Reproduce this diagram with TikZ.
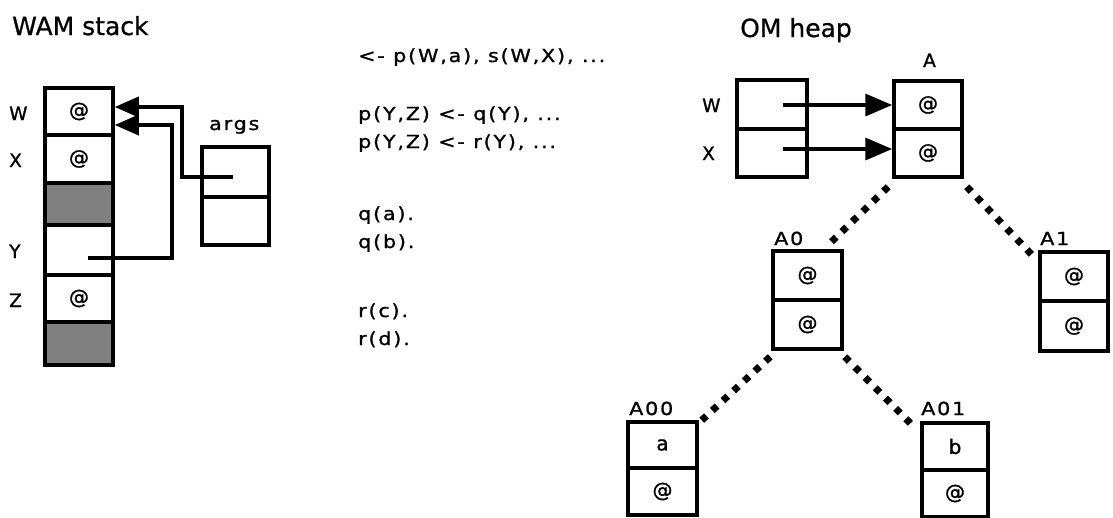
\documentclass[tikz,border=0pt]{standalone}
\usepackage{fontspec}
\setmainfont{DejaVu Sans}
\newfontfamily\genevafont[LetterSpace=10,FakeStretch=1.15,FakeBold=1.2]{DejaVu Sans}
\newfontfamily\letterfont[FakeBold=1.2]{DejaVu Sans}
\newfontfamily\titlefont[FakeBold=0.8]{DejaVu Sans}
\usetikzlibrary{arrows.meta,calc}
\begin{document}
\begin{tikzpicture}[x=1pt,y=-1pt,
  cell/.style={draw,line width=3.5pt,rectangle,inner sep=0pt,minimum width=68pt,font=\letterfont\fontsize{20}{22}\selectfont},
  shaded/.style={cell,fill=black!50},
  vlbl/.style={anchor=base west,inner sep=0pt,font=\letterfont\fontsize{18.5}{22}\selectfont},
  lbl/.style={anchor=base west,inner sep=0pt,font=\genevafont\fontsize{18}{22}\selectfont},
  prog/.style={anchor=base west,inner sep=0pt,font=\genevafont\fontsize{18}{22}\selectfont},
  title/.style={anchor=base west,inner sep=0pt,font=\titlefont\fontsize{25}{28}\selectfont},
  arr/.style={line width=3.5pt,-{Triangle[length=24pt,width=20pt]}},
  arrb/.style={line width=3.5pt,-{Triangle[length=27pt,width=22pt]}},
  dotline/.style={line width=7pt,dash pattern=on 6.5pt off 8pt}]
\useasboundingbox (0,0) rectangle (1113,517);
% titles
\node[title] (t1) at (12,35) {WAM stack};
\node[title] (t2) at (740,37) {OM heap};
% WAM stack
\node[cell,minimum height=47pt] (w) at (79,111.5) {@};
\node[cell,minimum height=48pt] (x) at (79,159) {@};
\node[shaded,minimum height=42pt] (s1) at (79,204) {};
\node[cell,minimum height=50pt] (y) at (79,250) {};
\node[cell,minimum height=47pt] (z) at (79,298.5) {@};
\node[shaded,minimum height=43pt] (s2) at (79,343.5) {};
\node[vlbl] (lw) at (9,120) {W};
\node[vlbl] (lx) at (9,167) {X};
\node[vlbl] (ly) at (9,258) {Y};
\node[vlbl] (lz) at (9,307) {Z};
% args
\node[cell,minimum width=67pt,minimum height=50pt] (g1) at (235.5,172) {};
\node[cell,minimum width=67pt,minimum height=48pt] (g2) at (235.5,221) {};
\node[lbl] (la) at (209,130) {args};
\coordinate (ga) at (233,177);
\coordinate (ya) at (88,258);
\draw[arr] (ga) -- (182,177) |- ([yshift=4.5pt]w.east);
\draw[arr] (ya) -- (172,258) |- ([yshift=-13.5pt]w.east);
% program
\node[prog] (p1) at (358,62) {<- p(W,a), s(W,X), ...};
\node[prog] (p2) at (358,120) {p(Y,Z) <- q(Y), ...};
\node[prog] (p3) at (358,148) {p(Y,Z) <- r(Y), ...};
\node[prog] (p4) at (358,220) {q(a).};
\node[prog] (p5) at (358,248) {q(b).};
\node[prog] (p6) at (358,317) {r(c).};
\node[prog] (p7) at (358,345) {r(d).};
% OM heap
\node[cell,minimum width=70pt,minimum height=49pt] (ow) at (772,104.5) {};
\node[cell,minimum width=70pt,minimum height=48pt] (ox) at (772,153) {};
\node[vlbl] (low) at (702,112) {W};
\node[vlbl] (lox) at (702,160) {X};
\node[cell,minimum height=48pt] (aT) at (928,105) {@};
\node[cell,minimum height=48pt] (aB) at (928,153) {@};
\node[vlbl] (lA) at (923,67) {A};
\coordinate (pw) at (783,105);
\coordinate (px) at (783,149);
\draw[arrb] (pw) -- (aT.west |- pw);
\draw[arrb] (px) -- (aB.west |- px);
\node[cell,minimum width=69pt,minimum height=49pt] (a0T) at (807.5,275.5) {@};
\node[cell,minimum width=69pt,minimum height=49pt] (a0B) at (807.5,324.5) {@};
\node[lbl] (lA0) at (774,245) {A0};
\node[cell,minimum height=49pt] (a1T) at (1074,276.5) {@};
\node[cell,minimum height=50pt] (a1B) at (1074,326) {@};
\node[lbl] (lA1) at (1040,245) {A1};
\node[cell,minimum width=69pt,minimum height=46pt] (a00T) at (662.5,445) {a};
\node[cell,minimum width=69pt,minimum height=47pt] (a00B) at (662.5,491.5) {@};
\node[lbl] (lA00) at (629,415) {A00};
\node[cell,minimum width=66pt,minimum height=47pt] (a01T) at (955,446.5) {b};
\node[cell,minimum width=66pt,minimum height=47pt] (a01B) at (955,493.5) {@};
\node[lbl] (lA01) at (921,415) {A01};
% dotted links
\draw[dotline] ($(aB.south west)+(-4,8)$) -- ($(a0T.north east)+(-17,-3)$);
\draw[dotline] ($(aB.south east)+(3,8)$) -- ($(a1T.north west)+(-5,6)$);
\draw[dotline] ($(a0B.south west)+(-1,6)$) -- ($(a00T.north east)+(3,0)$);
\draw[dotline] ($(a0B.south east)+(1,6)$) -- ($(a01T.north west)+(-7,5)$);
\end{tikzpicture}
\end{document}
